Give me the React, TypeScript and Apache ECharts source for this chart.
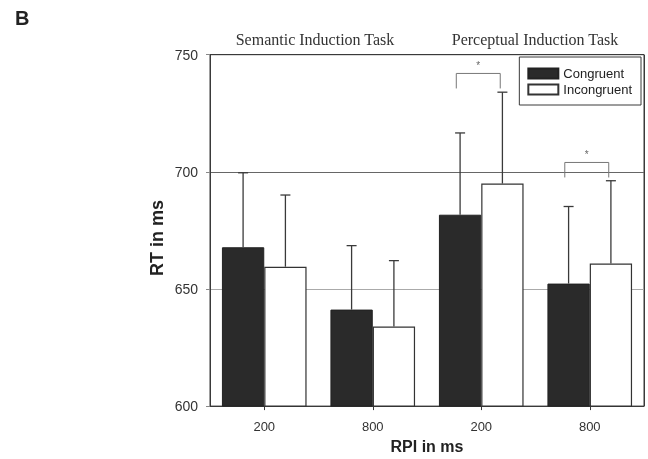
import React, { useEffect, useRef } from "react";
import * as echarts from "echarts";

const categories = ["200-S", "800-S", "200-P", "800-P"];
const tickLabels = ["200", "800", "200", "800"];
const congruent = [667.8, 641.2, 681.7, 652.3];
const congruentErr = [31.8, 27.3, 34.9, 32.9];
const incongruent = [659.5, 634.0, 695.0, 660.9];
const incongruentErr = [30.6, 28.1, 39.0, 35.3];
const sigCats = [2, 3];
const sigTop = [742, 704];
const panelTitles = ["Semantic Induction Task", "Perceptual Induction Task"];

const BAR_FRAC = 0.39;

export default function App() {
  const ref = useRef<HTMLDivElement>(null);
  useEffect(() => {
    if (!ref.current) return;
    const chart = echarts.init(ref.current, null, { renderer: "svg" });

    const errSeries = (vals: number[], errs: number[], sign: number) => ({
      type: "custom",
      silent: true,
      z: 5,
      data: vals.map((v, i) => [i, v, errs[i]]),
      encode: { x: 0, y: 1 },
      renderItem: (params: any, api: any) => {
        const idx = api.value(0);
        const v = api.value(1);
        const e = api.value(2);
        const base = api.coord([idx, v]);
        const top = api.coord([idx, v + e]);
        const band = api.size([1, 0])[0];
        const x = base[0] + (sign * band * BAR_FRAC) / 2;
        const st = { stroke: "#3a3a3a", lineWidth: 1.3 };
        return {
          type: "group",
          children: [
            { type: "line", shape: { x1: x, y1: base[1], x2: x, y2: top[1] }, style: st },
            { type: "line", shape: { x1: x - 5, y1: top[1], x2: x + 5, y2: top[1] }, style: st },
          ],
        };
      },
    });

    const option: any = {
      animation: false,
      grid: {
        left: 210,
        right: 4,
        top: 54.7,
        bottom: 47.3,
        show: true,
        borderColor: "#3a3a3a",
        borderWidth: 1,
      },
      title: [
        {
          text: panelTitles[0],
          left: 310,
          top: 26,
          textAlign: "center",
          textStyle: { fontFamily: "Liberation Serif", fontSize: 16, fontWeight: "normal", color: "#333" },
        },
        {
          text: panelTitles[1],
          left: 530,
          top: 26,
          textAlign: "center",
          textStyle: { fontFamily: "Liberation Serif", fontSize: 16, fontWeight: "normal", color: "#333" },
        },
      ],
      graphic: [
        {
          type: "text",
          left: 15,
          top: 8,
          style: { text: "B", font: "bold 20px 'Liberation Sans'", fill: "#222" },
        },
        {
          type: "text",
          x: 157,
          y: 238,
          rotation: Math.PI / 2,
          style: {
            text: "RT in ms",
            font: "bold 18px 'Liberation Sans'",
            fill: "#222",
            align: "center",
            verticalAlign: "middle",
          },
        },
      ],
      legend: {
        data: ["Congruent", "Incongruent"],
        orient: "vertical",
        right: 7,
        top: 57,
        padding: [10, 9, 9, 8],
        itemGap: 3,
        itemWidth: 30,
        itemHeight: 10,
        icon: "rect",
        borderColor: "#3a3a3a",
        borderWidth: 1,
        backgroundColor: "#fff",
        textStyle: { fontFamily: "Liberation Sans", fontSize: 13, color: "#222" },
      },
      xAxis: {
        type: "category",
        data: categories,
        name: "RPI in ms",
        nameLocation: "middle",
        nameGap: 25,
        nameTextStyle: { fontFamily: "Liberation Sans", fontSize: 16, fontWeight: "bold", color: "#222" },
        axisLine: { show: true, lineStyle: { color: "#3a3a3a", width: 1 } },
        axisTick: { show: true, alignWithLabel: true, length: 4, lineStyle: { color: "#3a3a3a" } },
        axisLabel: {
          margin: 14,
          fontFamily: "Liberation Sans",
          fontSize: 13,
          color: "#333",
          formatter: (_v: string, i: number) => tickLabels[i],
        },
        splitLine: {
          show: true,
          interval: (index: number) => index === 2,
          lineStyle: { color: "#3a3a3a", width: 1 },
        },
      },
      yAxis: {
        type: "value",
        min: 600,
        max: 750,
        interval: 50,
        axisLine: { show: true, lineStyle: { color: "#3a3a3a", width: 1 } },
        axisTick: { show: true, length: 4, lineStyle: { color: "#888" } },
        axisLabel: { margin: 12, fontFamily: "Liberation Sans", fontSize: 14, color: "#333" },
        splitLine: {
          show: true,
          lineStyle: { color: ["#3a3a3a", "#aaaaaa", "#666666", "#3a3a3a"], width: 1 },
        },
      },
      series: [
        {
          name: "Congruent",
          type: "bar",
          data: congruent,
          barWidth: BAR_FRAC * 100 + "%",
          barGap: "0%",
          itemStyle: { color: "#2a2a2a", borderColor: "#222", borderWidth: 1 },
          z: 3,
        },
        {
          name: "Incongruent",
          type: "bar",
          data: incongruent,
          barWidth: BAR_FRAC * 100 + "%",
          barGap: "0%",
          itemStyle: { color: "#ffffff", borderColor: "#333", borderWidth: 1.2 },
          z: 3,
        },
        errSeries(congruent, congruentErr, -1),
        errSeries(incongruent, incongruentErr, 1),
        {
          type: "custom",
          silent: true,
          z: 6,
          data: sigCats.map((c, i) => [c, sigTop[i]]),
          encode: { x: 0, y: 1 },
          renderItem: (params: any, api: any) => {
            const idx = api.value(0);
            const v = api.value(1);
            const p = api.coord([idx, v]);
            const band = api.size([1, 0])[0];
            const xl = p[0] - band * 0.23;
            const xr = p[0] + band * 0.175;
            const st = { stroke: "#777", lineWidth: 1 };
            return {
              type: "group",
              children: [
                { type: "polyline", shape: { points: [[xl, p[1] + 15], [xl, p[1]], [xr, p[1]], [xr, p[1] + 15]] }, style: { ...st, fill: null } },
                {
                  type: "text",
                  x: (xl + xr) / 2,
                  y: p[1] - 3,
                  style: { text: "*", fill: "#666", font: "10px 'Liberation Sans'", align: "center", verticalAlign: "bottom" },
                },
              ],
            };
          },
        },
      ],
    };
    chart.setOption(option);
    return () => chart.dispose();
  }, []);
  return <div ref={ref} style={{ position: "fixed", left: 0, top: 0, width: 648, height: 459 }} />;
}
